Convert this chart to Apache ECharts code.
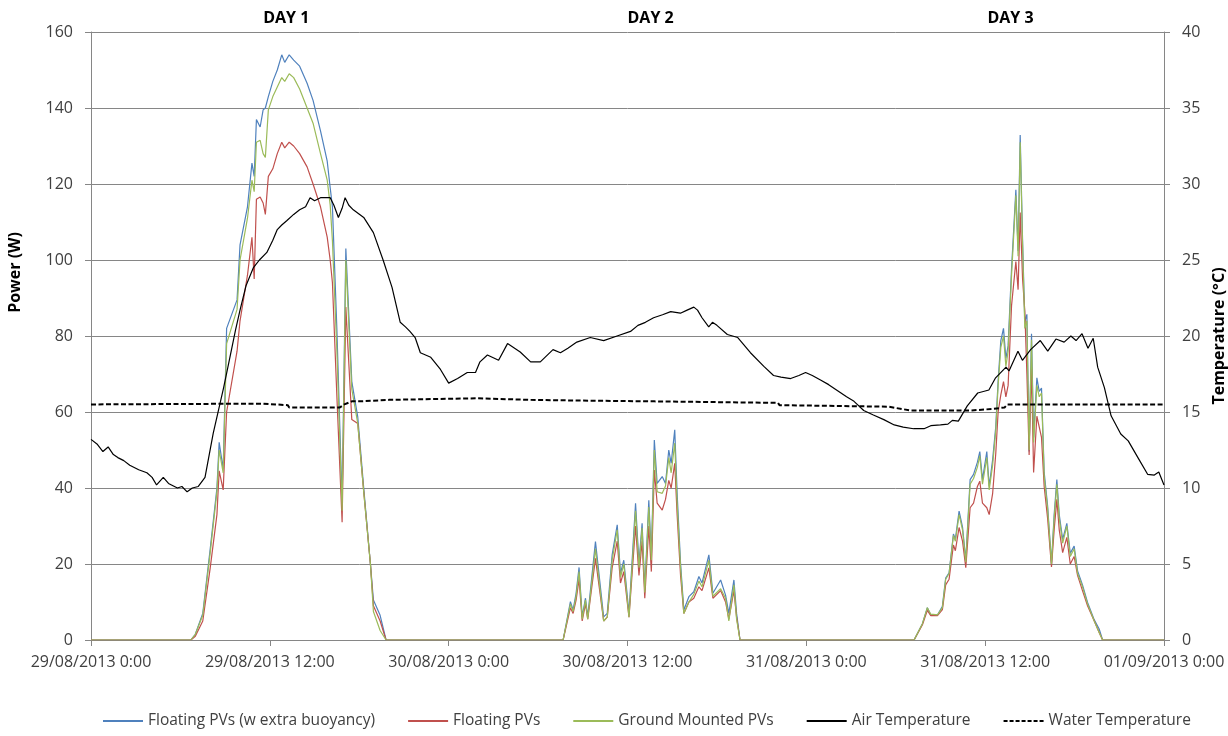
<!DOCTYPE html>
<html>
<head>
<meta charset="utf-8">
<script src="https://cdn.jsdelivr.net/npm/echarts@6/dist/echarts.min.js"></script>
<style>
html,body{margin:0;padding:0;background:#fff;}
#chart{width:1228px;height:736px;}
</style>
</head>
<body>
<div id="chart"></div>
<script>
// ---- DATA ----
const xTickLabels = ['29/08/2013 0:00','29/08/2013 12:00','30/08/2013 0:00','30/08/2013 12:00','31/08/2013 0:00','31/08/2013 12:00','01/09/2013 0:00'];
const dayLabels = ['DAY 1','DAY 2','DAY 3'];
const dayHours = [13.1, 37.55, 61.7];

// hours since 29/08/2013 0:00 for power samples
const powerHours = [0,6.7,7.0,7.5,8.0,8.45,8.6,8.87,9.1,9.8,10.0,10.5,10.8,10.95,11.1,11.35,11.55,11.7,11.9,12.2,12.5,12.8,13.0,13.3,13.6,14.0,14.5,14.9,15.4,15.85,16.05,16.2,16.5,16.85,17.1,17.5,17.9,18.3,18.75,18.95,19.4,19.8,19.9,
31.68,32.17,32.35,32.55,32.75,32.96,33.18,33.33,33.85,34.4,34.64,34.97,35.31,35.53,35.75,36.1,36.54,36.77,36.98,37.16,37.43,37.6,37.8,37.99,38.33,38.55,38.77,38.93,39.17,39.33,39.56,39.78,40.12,40.45,40.79,41.0,41.46,41.73,42.25,42.58,42.8,43.14,43.32,43.55,
55.23,55.79,56.12,56.35,56.8,57.13,57.35,57.58,57.87,58.0,58.25,58.48,58.7,58.99,59.22,59.48,59.64,59.82,60.11,60.27,60.5,60.71,60.87,61.05,61.23,61.39,61.54,61.77,62.06,62.21,62.35,62.51,62.66,62.8,62.95,63.11,63.25,63.47,63.63,63.78,63.96,64.19,64.45,64.63,64.81,64.97,65.2,65.48,65.71,65.97,66.2,66.53,66.87,67.32,67.65,67.88,72];

const floatingExtraW = [0,0,1.5,7,24,40,52,45,82,89.5,104,114,125.5,122,137,135,139.5,140,143,147,150,154,152,154,152.6,151,146.5,142,134,126,119,114,81.6,36,103,68,58.7,40,20,10.5,6.5,0,0,
0,10.1,7.9,12.3,19.1,6.1,11.0,6.1,25.9,6.1,7.0,22.4,30.3,17.5,21.0,7.0,36.0,20.2,30.7,13.2,36.8,21.9,52.6,41.2,43.0,41.2,50,46.5,55.3,38.6,20.2,7.9,11.4,12.7,16.7,15,22.4,12.3,15.8,11.8,7.0,15.8,7.0,0,
0,4.3,8.5,6.6,6.6,8.9,16.3,17.7,27.9,26.5,33.9,29.7,21.0,42.2,43.6,46.8,49.6,42.2,49.6,40.4,47.4,56.1,68.2,78.8,82.0,74.1,77.4,97.7,118.5,102.4,132.9,105.1,83.8,85.7,49.6,80.6,53.3,69.0,65.4,66.3,44.1,35.3,20.1,33.0,42.2,33.0,26.5,30.7,22.8,24.7,18.2,14.5,9.9,5.3,2.9,0,0];

const floatingW = [0,0,1,5,19,33,44.5,39.5,60,76,84,96,106,95,116,116.6,115,112,122,124,128,131,129.5,131,130,128,124.5,120,114,106,100,94,64,31,87.6,58,57,39,20,9,5,0,0,
0,8.5,7,10.5,16,5,9.5,5.5,21.5,5,6,19,26,15,18,6,30,17,26,11,30,18,44.7,36,34.2,37,42,40,46.5,33,17,7,10,11,14,13,19,11,13,10,5.5,13,6,0,
0,4,7.8,6.4,6.4,8,14.5,16,25,23.5,29.6,26,19,34.8,36,40.4,41.8,36,34.8,33,38.5,49,60,64.5,68,64,67,88,99.6,92.2,112.5,95,86.6,70,48.7,71.8,44.1,58.9,56,53.3,40.4,32,19.2,29,37,29,23,27,20,22,17,13,9,5,2,0,0];

const groundW = [0,0,1.5,6.5,23,39,50,44,78,87,100,111,121,118,131,131.5,128,127,139.5,143,145.5,148,147,149,148,145,140,136,128,121,114.5,105,76,34,100,66,57,39,20,7.5,2.5,0,0,
0,9.5,7.5,11.5,18,5.5,10.5,5.5,24,5,6,21,29,16.5,20,6,34,19,29.5,12.5,35,21,50,39,38.6,40.5,48,44,51.8,36,19,7,10,12,15.5,14,21,11.5,13.5,11,5,14.5,5.5,0,
0,4.3,8.5,6.8,6.6,8.5,16,17.5,27.5,26,33,29,20.5,41,42.5,45.5,48.5,41,48,39.5,46,55,67,77,80,72,76,96,117,101,131,104,82,84,50,79,52,67,64,65,43,34.5,20,32,41,32,25.5,30,22,24,17.5,14,9.5,5,2,0,0];

const airHours = [0,0.4,0.8,1.15,1.5,1.8,2.2,2.6,3.2,3.75,4.1,4.4,4.85,5.2,5.8,6.1,6.45,6.8,7.2,7.65,8.2,8.9,9.3,9.7,10.0,10.4,10.9,11.3,11.8,12.2,12.5,12.8,13.15,13.6,14.0,14.4,14.7,15.0,15.4,16.05,16.3,16.6,16.85,17.05,17.3,17.6,18.3,18.95,19.6,20.2,20.75,21.1,21.4,21.75,22.1,22.8,23.45,24.0,24.6,25.25,25.8,26.1,26.6,27.35,27.95,28.8,29.5,30.15,31.0,31.5,32.0,32.6,33.5,34.4,35.3,36.2,36.7,37.2,37.75,38.35,38.9,39.55,40.0,40.45,40.7,41.0,41.45,41.7,42.0,42.7,43.4,44.25,45.15,45.8,46.3,46.95,47.5,47.95,48.4,48.95,49.5,50.1,50.7,51.2,51.85,52.5,53.2,53.9,54.5,55.2,55.9,56.35,57.0,57.5,57.8,58.2,58.8,59.5,60.25,60.7,61.4,61.6,62.2,62.5,63.05,63.7,64.2,64.75,65.3,65.75,66.1,66.5,66.9,67.25,67.55,68.0,68.45,69.1,69.6,70.25,70.9,71.35,71.65,72];
const airTempC = [13.2,12.9,12.4,12.7,12.2,12.0,11.8,11.5,11.2,11.0,10.7,10.2,10.7,10.3,10.0,10.1,9.75,10.0,10.1,10.7,13.6,16.6,18.5,20.4,21.7,23.3,24.5,25.0,25.5,26.3,27.0,27.3,27.6,28.0,28.3,28.5,29.1,28.9,29.1,29.1,28.6,27.8,28.4,29.1,28.6,28.3,27.8,26.8,25.0,23.2,20.9,20.6,20.3,19.9,18.9,18.6,17.8,16.9,17.2,17.6,17.6,18.3,18.75,18.4,19.5,18.95,18.3,18.3,19.1,18.9,19.2,19.6,19.9,19.7,20.0,20.3,20.7,20.9,21.2,21.4,21.6,21.5,21.7,21.9,21.7,21.2,20.6,20.9,20.7,20.1,19.9,18.9,18.0,17.4,17.3,17.2,17.4,17.6,17.4,17.1,16.8,16.4,16.0,15.7,15.1,14.8,14.5,14.15,14.0,13.9,13.9,14.1,14.15,14.2,14.45,14.4,15.4,16.25,16.45,17.25,17.95,17.7,19.0,18.4,19.1,19.7,19.0,19.8,19.6,20.0,19.7,20.15,19.2,19.85,17.95,16.6,14.75,13.55,13.1,12.0,10.9,10.85,11.05,10.2];

const waterHours = [0,0.3,0.35,11.5,11.6,13.2,13.3,16.7,17.0,17.5,18.0,18.1,20.0,20.1,25.9,26.0,29.5,33.0,33.1,37.8,37.9,46.1,46.2,53.5,55.0,57.5,59.0,60.5,61.3,61.5,72];
const waterTempC = [15.5,15.5,15.55,15.55,15.45,15.45,15.3,15.3,15.5,15.7,15.7,15.8,15.8,15.9,15.9,15.8,15.8,15.75,15.7,15.7,15.6,15.6,15.45,15.35,15.1,15.1,15.1,15.2,15.3,15.5,15.5];

const seriesNames = ['Floating PVs (w extra buoyancy)','Floating PVs','Ground Mounted PVs','Air Temperature','Water Temperature'];

// ---- CHART ----
const zip = (xs, ys) => xs.map((x, i) => [x, ys[i]]);
const FONT = 'Open Sans';
const chart = echarts.init(document.getElementById('chart'), null, {renderer: 'canvas'});

const SOLID_ICON = 'path://M0,0h40v2h-40z';
const DASH_ICON = 'path://M0,0h4v2h-4z M6,0h4v2h-4z M12,0h4v2h-4z M18,0h4v2h-4z M24,0h4v2h-4z M30,0h4v2h-4z M36,0h4v2h-4z';
const seriesColors = ['#4F81BD','#C0504D','#9BBB59','#000000','#000000'];

const option = {
  animation: false,
  backgroundColor: '#ffffff',
  textStyle: {fontFamily: FONT},
  grid: {left: 91, right: 64, top: 32, bottom: 96, containLabel: false, outerBoundsMode: 'none'},
  legend: {
    left: 98, top: 708,
    itemWidth: 40, itemHeight: 2, itemGap: 33,
    textStyle: {fontFamily: FONT, fontSize: 15.5, color: '#404040'},
    data: seriesNames.map((n, i) => ({
      name: n,
      icon: i === 4 ? DASH_ICON : SOLID_ICON,
      itemStyle: {color: seriesColors[i]}
    }))
  },
  xAxis: {
    type: 'value', min: 0, max: 72, interval: 12,
    axisLine: {lineStyle: {color: '#868686', width: 1}},
    axisTick: {show: true, length: 6, lineStyle: {color: '#868686'}},
    splitLine: {show: false},
    axisLabel: {
      margin: 14, fontFamily: FONT, fontSize: 16, color: '#404040',
      formatter: v => xTickLabels[Math.round(v / 12)] || ''
    }
  },
  yAxis: [
    {
      type: 'value', min: 0, max: 160, interval: 20,
      axisLine: {show: true, lineStyle: {color: '#868686'}},
      axisTick: {show: true, length: 6, lineStyle: {color: '#868686'}},
      splitLine: {show: true, lineStyle: {color: '#868686', width: 1}},
      axisLabel: {margin: 18, fontFamily: FONT, fontSize: 16, color: '#404040'}
    },
    {
      type: 'value', min: 0, max: 40, interval: 5, position: 'right',
      name: 'Temperature (°C)', nameLocation: 'middle', nameGap: 45,
      nameTextStyle: {fontFamily: FONT, fontSize: 16, fontWeight: 'bold', color: '#000'},
      axisLine: {show: true, lineStyle: {color: '#868686'}},
      axisTick: {show: true, length: 6, lineStyle: {color: '#868686'}},
      splitLine: {show: false},
      axisLabel: {margin: 18, fontFamily: FONT, fontSize: 16, color: '#404040'}
    }
  ],
  series: [
    {name: seriesNames[0], type: 'line', yAxisIndex: 0, symbol: 'none', z: 3,
     lineStyle: {color: seriesColors[0], width: 1.2}, itemStyle: {color: seriesColors[0]},
     data: zip(powerHours, floatingExtraW)},
    {name: seriesNames[1], type: 'line', yAxisIndex: 0, symbol: 'none', z: 4,
     lineStyle: {color: seriesColors[1], width: 1.2}, itemStyle: {color: seriesColors[1]},
     data: zip(powerHours, floatingW)},
    {name: seriesNames[2], type: 'line', yAxisIndex: 0, symbol: 'none', z: 5,
     lineStyle: {color: seriesColors[2], width: 1.2}, itemStyle: {color: seriesColors[2]},
     data: zip(powerHours, groundW)},
    {name: seriesNames[3], type: 'line', yAxisIndex: 1, symbol: 'none', z: 6,
     lineStyle: {color: seriesColors[3], width: 1.2}, itemStyle: {color: seriesColors[3]},
     data: zip(airHours, airTempC)},
    {name: seriesNames[4], type: 'line', yAxisIndex: 1, symbol: 'none', z: 6,
     lineStyle: {color: seriesColors[4], width: 2, type: [5, 2.5]}, itemStyle: {color: seriesColors[4]},
     data: zip(waterHours, waterTempC)}
  ],
  graphic: [
    {type: 'text', left: 7, top: 232, rotation: Math.PI / 2,
     style: {text: 'Power (W)', font: 'bold 16px "Open Sans"', fill: '#000'}}
  ]
};
chart.setOption(option);

// DAY labels placed through the x axis scale
const dayGraphics = dayLabels.map((d, i) => ({
  type: 'text',
  x: chart.convertToPixel({xAxisIndex: 0}, dayHours[i]),
  y: 18,
  style: {text: d, font: 'bold 16px "Open Sans"', fill: '#000', align: 'center', verticalAlign: 'middle'}
}));
chart.setOption({graphic: option.graphic.concat(dayGraphics)});
</script>
</body>
</html>
